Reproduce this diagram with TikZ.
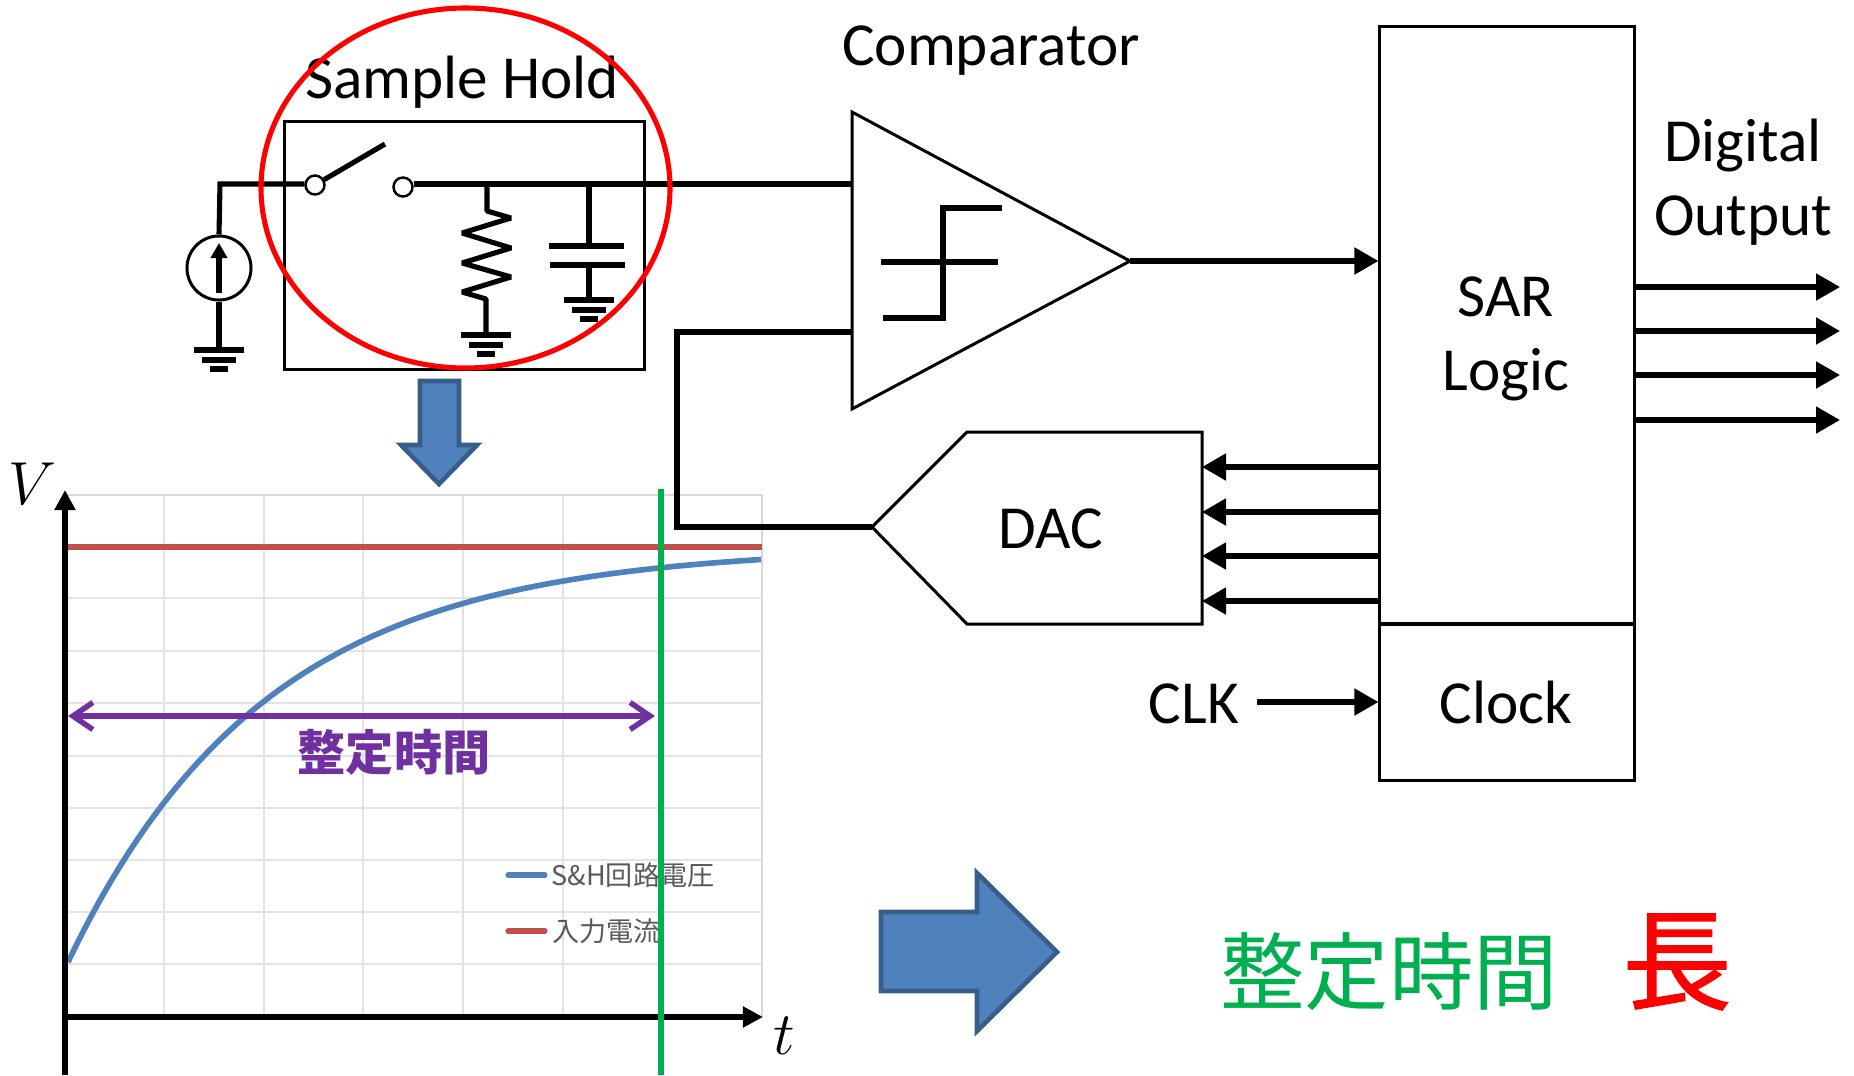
\documentclass[tikz,border=0pt]{standalone}
\usepackage{fontspec}
\setmainfont{Carlito}
\newfontfamily\cjk{Noto Sans CJK JP}
\newfontfamily\cjkheavy[FakeBold=1.2]{Noto Sans CJK JP}
\usetikzlibrary{arrows.meta}
\usetikzlibrary{calc}

\definecolor{blockblue}{HTML}{4F81BD}
\definecolor{blockedge}{HTML}{385D8A}
\definecolor{curvered}{HTML}{C0504D}
\definecolor{settlegreen}{HTML}{00B050}
\definecolor{settlepurple}{HTML}{7030A0}
\definecolor{gridgray}{HTML}{E3E3E3}
\definecolor{gridedge}{HTML}{D9D9D9}
\definecolor{legendgray}{HTML}{595959}

\tikzset{
	wire/.style={line width=1.45pt},
	thinwire/.style={line width=0.85pt},
	sigarrow/.style={wire,-{Triangle[length=0.24cm,width=0.26cm]}},
	blockbox/.style={draw=black,thinwire,inner sep=0pt},
	blockarrow/.style={draw=blockedge,fill=blockblue,line width=1.3pt},
	bigtext/.style={font=\fontsize{17.4}{21}\selectfont,inner sep=0pt},
	gndsym/.pic={
		\draw [wire] (-25,0) -- (25,0);
		\draw [wire] (-17,10) -- (17,10);
		\draw [wire] (-9,19) -- (9,19);
	}
}

\begin{document}
\begin{tikzpicture}[x=0.01cm,y=-0.01cm]
	\useasboundingbox (0,0) rectangle (1854,1075);

	% Chart grid:
	\begin{scope}[draw=gridgray,line width=0.45pt]
		\foreach \n in {164,264,363,463,563,662}{%
			\draw (\n,495) -- (\n,1017);
		}
		\foreach \n in {598,651,703,756,808,860,912,964}{%
			\draw (65,\n) -- (762,\n);
		}
		\draw [gridedge] (65,495) -- (762,495) -- (762,1017);
	\end{scope}

	% Input level and settling curve:
	\draw [curvered,line width=1.55pt] (68,547) -- (762,547);
	\draw [blockblue,line width=1.6pt] plot [domain=68:761,samples=80] (\x,{547+415*exp(-(\x-68)/198)});

	% Legend:
	\coordinate (lega) at (508,875);
	\coordinate (legb) at (545,875);
	\coordinate (legc) at (508,931);
	\coordinate (legd) at (545,931);
	\draw [blockblue,line width=1.45pt,line cap=round] (lega) -- (legb);
	\draw [curvered,line width=1.45pt,line cap=round] (legc) -- (legd);
	\node [right,inner sep=0pt,text=legendgray,font=\cjk\fontsize{7.7}{10}\selectfont] (legvolt) at (551,875) {S\&H回路電圧};
	\node [right,inner sep=0pt,text=legendgray,font=\cjk\fontsize{7.7}{10}\selectfont] (legcurr) at (552,931) {入力電流};

	% Axes:
	\coordinate (vbot) at (65,1075);
	\coordinate (vtop) at (65,490);
	\coordinate (tleft) at (65,1017);
	\coordinate (tright) at (763,1017);
	\draw [line width=1.7pt,-{Triangle[length=0.2cm,width=0.2cm]}] (vbot) -- (vtop);
	\draw [line width=1.7pt,-{Triangle[length=0.2cm,width=0.2cm]}] (tleft) -- (tright);
	\node [inner sep=0pt,font=\fontsize{18}{20}\selectfont] (vlabel) at (32,484) {$V$};
	\node [inner sep=0pt,font=\fontsize{18}{20}\selectfont] (tlabel) at (784,1036) {$t$};

	% Settling time:
	\coordinate (settop) at (661,489);
	\coordinate (setbot) at (661,1075);
	\draw [settlegreen,line width=1.6pt] (settop) -- (setbot);
	\coordinate (spana) at (68,716);
	\coordinate (spanb) at (655,716);
	\draw [settlepurple,line width=1.55pt,line cap=round,{Straight Barb[length=0.2cm,width=0.27cm]}-{Straight Barb[length=0.2cm,width=0.27cm]}] (spana) -- (spanb);
	\node [inner sep=0pt,text=settlepurple,font=\cjk\bfseries\fontsize{13.7}{16}\selectfont] (spanlabel) at (394,752) {整定時間};

	% Sample and hold:
	\node [bigtext] (shlabel) at (462,82) {Sample Hold};
	\node [blockbox,minimum width=3.59cm,minimum height=2.47cm] (shbox) at (464.5,245.5) {};
	\node [draw=black,circle,fill=white,line width=0.7pt,inner sep=0pt,minimum size=0.19cm] (swa) at (315,185) {};
	\node [draw=black,circle,fill=white,line width=0.7pt,inner sep=0pt,minimum size=0.19cm] (swb) at (403,187) {};
	\coordinate (swtip) at (385,144);
	\draw [wire] (swa) -- (swtip);

	% Source:
	\node [draw=black,circle,thinwire,inner sep=0pt,minimum size=0.64cm] (src) at (219,268) {};
	\coordinate (srctop) at (220,184);
	\coordinate (srcgnd) at (219,350);
	\draw [wire] (src.north) -- (srctop) -- (swa.west |- srctop);
	\draw [wire] (src.south) -- (srcgnd);
	\pic at (srcgnd) {gndsym};
	\coordinate (srcup) at (219,243);
	\coordinate (srcdn) at (219,293);
	\draw [wire,-{Triangle[length=0.15cm,width=0.16cm]}] (srcdn) -- (srcup);

	% Comparator:
	\coordinate (cmpa) at (852,112);
	\coordinate (cmpb) at (852,409);
	\coordinate (cmptip) at (1130,261);
	\coordinate (cmpin) at (852,184);
	\coordinate (cmpfb) at (852,332);
	\draw [thinwire,line join=miter] (cmpa) -- (cmptip) -- (cmpb) -- cycle;
	\draw [wire] (swb.east |- cmpin) -- (cmpin);
	\draw [wire] (881,262) -- (998,262);
	\draw [wire] (1002,208) -- (943,208) -- (943,318) -- (883,318);
	\node [bigtext] (cmplabel) at (991,51) {Comparator};

	% Resistor:
	\coordinate (rtop) at (487,184);
	\coordinate (rgnd) at (486,335);
	\draw [wire,line join=bevel] (rtop) -- (487,211) -- (511,218) -- (462,233) -- (511,248) -- (462,263) -- (511,277) -- (462,292) -- (486,299) -- (rgnd);
	\pic at (rgnd) {gndsym};

	% Capacitor:
	\coordinate (ctop) at (589,184);
	\coordinate (cgnd) at (589,300);
	\draw [wire] (ctop) -- (589,246);
	\draw [wire] (549,246) -- (624,246);
	\draw [wire] (550,265) -- (625,265);
	\draw [wire] (589,265) -- (cgnd);
	\pic at (cgnd) {gndsym};

	% SAR logic:
	\node [blockbox,minimum width=2.54cm,minimum height=5.97cm] (sar) at (1507,325.5) {};
	\node [blockbox,minimum width=2.54cm,minimum height=1.56cm] (clk) at (1507,702) {};
	\node [bigtext,align=center] (sarlabel) at (1506,339) {SAR\\Logic};
	\node [bigtext] (clklabel) at (1506,702) {Clock};
	\node [bigtext] (clkin) at (1194,704) {CLK};
	\draw [sigarrow] (clkin.east) ++(17,-2) -- (clk.west |- 0,702);
	\draw [sigarrow] (cmptip) -- (sar.west |- cmptip);

	% DAC:
	\coordinate (dactip) at (872,527);
	\coordinate (dacne) at (1202,432);
	\coordinate (dacse) at (1202,624);
	\draw [thinwire] (dactip) -- (967,432) -- (dacne) -- (dacse) -- (967,624) -- cycle;
	\node [bigtext] (daclabel) at (1051,529) {DAC};
	\coordinate (fbcorner) at (677,332);
	\draw [wire] (cmpfb) -- (fbcorner) -- (fbcorner |- dactip) -- (dactip);
	\foreach \n in {467,512,556,601}{%
		\draw [sigarrow] (sar.west |- 0,\n) -- (dacne |- 0,\n);
	}

	% Digital output:
	\node [bigtext,align=center] (outlabel) at (1743,182) {Digital\\Output};
	\foreach \n in {287,331,375,420}{%
		\draw [sigarrow] (sar.east |- 0,\n) -- (1840,\n);
	}

	% Block arrows:
	\draw [blockarrow] (420,381) -- (459,381) -- (459,445) -- (477,445) -- (439,484) -- (401,445) -- (420,445) -- cycle;
	\draw [blockarrow] (881,912) -- (977,912) -- (977,873) -- (1057,952) -- (977,1031) -- (977,991) -- (881,991) -- cycle;

	% Result:
	\node [inner sep=0pt,text=settlegreen,font=\cjk\fontsize{24}{28}\selectfont] (reslabel) at (1389,972) {整定時間};
	\node [inner sep=0pt,text=red,font=\cjkheavy\fontsize{31}{36}\selectfont] (longlabel) at (1677,962) {長};

	% Red mark:
	\draw [red,line width=1.45pt] (465.5,188) ellipse [x radius=204.5,y radius=180];
\end{tikzpicture}
\end{document}
